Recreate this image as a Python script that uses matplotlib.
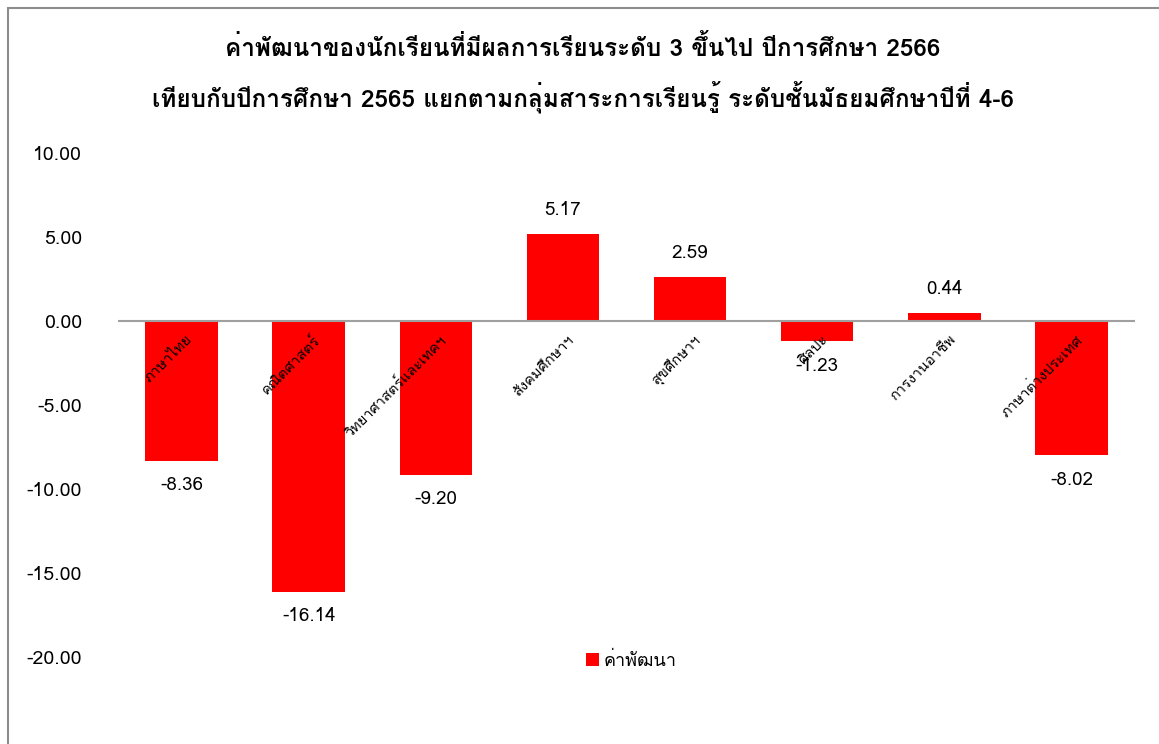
import matplotlib
matplotlib.use("Agg")
import matplotlib.pyplot as plt
from matplotlib import font_manager
from matplotlib.ft2font import FT2Font
from matplotlib.patches import Rectangle

# find an installed font that has Thai glyphs
thai_family = None
for path in sorted(font_manager.findSystemFonts()):
    try:
        if 0x0E01 in FT2Font(path).get_charmap():
            thai_family = font_manager.FontProperties(fname=path).get_name()
            break
    except Exception:
        continue
families = [thai_family, "DejaVu Sans"] if thai_family else ["DejaVu Sans"]
plt.rcParams["font.family"] = families

subjects = ["ภาษาไทย", "คณิตศาสตร์", "วิทยาศาสตร์และเทคฯ", "สังคมศึกษาฯ",
            "สุขศึกษาฯ", "ศิลปะ", "การงานอาชีพ", "ภาษาต่างประเทศ"]
dev_values = [-8.36, -16.14, -9.20, 5.17, 2.59, -1.23, 0.44, -8.02]
y_ticks = [10, 5, 0, -5, -10, -15, -20]

title = ("ค่าพัฒนาของนักเรียนที่มีผลการเรียนระดับ 3 ขึ้นไป ปีการศึกษา 2566\n"
         "เทียบกับปีการศึกษา 2565 แยกตามกลุ่มสาระการเรียนรู้ ระดับชั้นมัธยมศึกษาปีที่ 4-6")

fig = plt.figure(figsize=(11.59, 7.44), dpi=100)
ax = fig.add_axes([118 / 1159, 1 - 680 / 744, (1135 - 118) / 1159, (680 - 153) / 744])

x = range(len(subjects))
ax.bar(x, dev_values, width=0.57, color="#FF0000", label="ค่าพัฒนา", zorder=2)
ax.set_xlim(-0.5, len(subjects) - 0.5)
ax.set_ylim(-21.4, 10)
ax.set_yticks(y_ticks)
ax.set_yticklabels([f"{v:.2f}" for v in y_ticks], fontsize=14)
ax.tick_params(axis="y", length=0, pad=26)
ax.set_xticks([])
for s in ax.spines.values():
    s.set_visible(False)
ax.axhline(0, color="#A0A0A0", lw=1.5, zorder=3)

# category labels next to the zero line
for i, name in enumerate(subjects):
    ax.text(i + 0.03, -0.7, name, rotation=45, rotation_mode="anchor",
            ha="right", va="top", fontsize=10.5, zorder=4)

# value labels
for i, v in enumerate(dev_values):
    off = 0.9 if v >= 0 else -0.9
    ax.text(i, v + off, f"{v:.2f}", ha="center", va="bottom" if v >= 0 else "top",
            fontsize=13.5, zorder=4)

fig.text(0.503, 1 - 74 / 744, title, ha="center", va="center", fontsize=17.5,
         fontweight="bold", linespacing=1.75)

ax.legend(loc="upper center", bbox_to_anchor=(0.505, 0.085), frameon=False,
          fontsize=13, handlelength=0.7, handleheight=0.7, handletextpad=0.3)

fig.add_artist(Rectangle((8 / 1159, -0.01), 1.1, 1 - 8 / 744 + 0.01,
                         transform=fig.transFigure, fill=False,
                         edgecolor="#8C8C8C", lw=1.5))

fig.savefig("out.png", dpi=100)
